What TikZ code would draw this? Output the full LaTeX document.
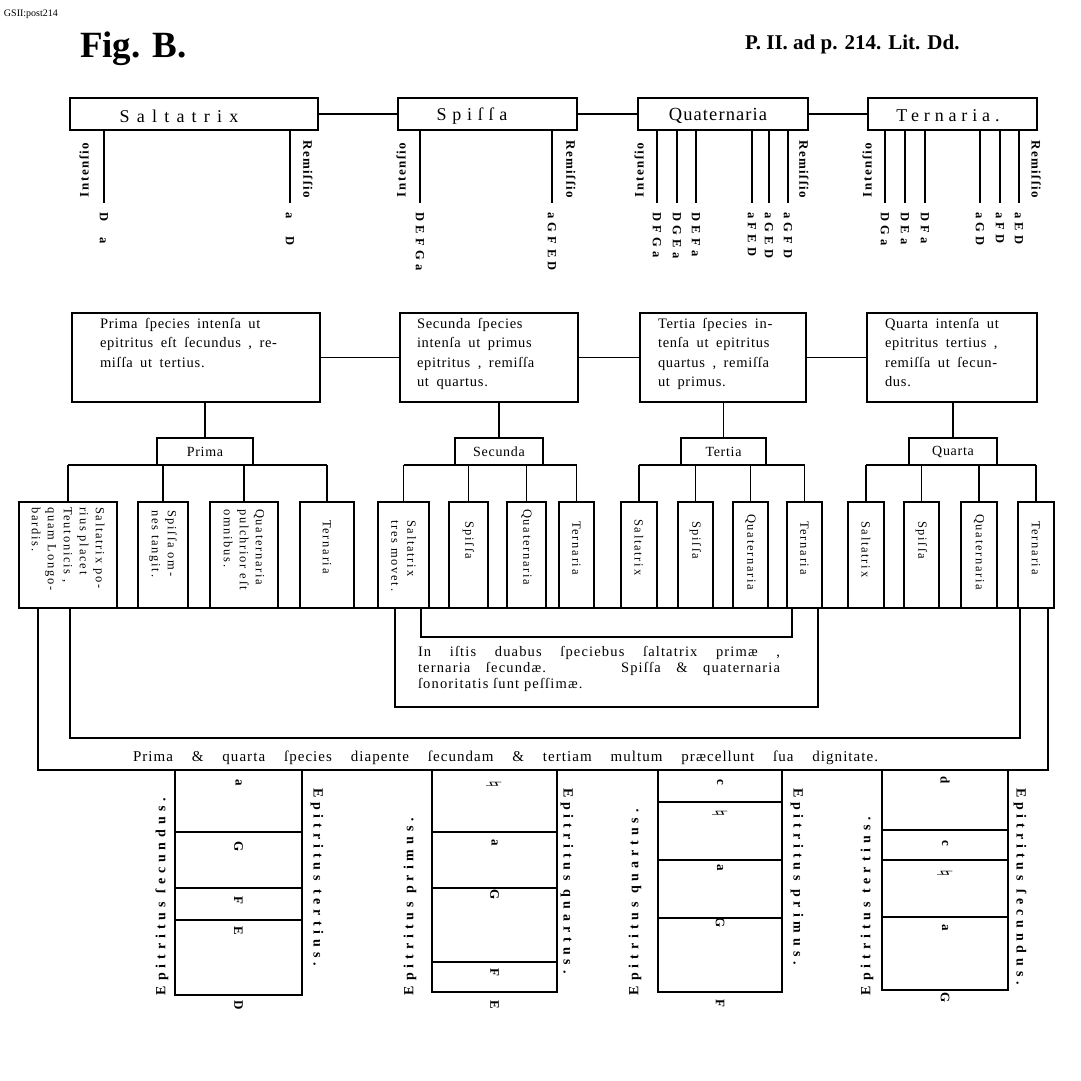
\documentclass[tikz,border=0pt]{standalone}
\usepackage{fontspec}
\setmainfont{Liberation Serif}
\newfontfamily\natfam{DejaVu Sans}
\usetikzlibrary{calc}
\newcommand\natsgn{{\natfam\bfseries\fontsize{21}{21}\selectfont ♮}}
\begin{document}
\begin{tikzpicture}[x=1pt,y=-1pt,
 every node/.style={inner sep=0pt,outer sep=0pt},
 bx/.style={draw,line width=1.8pt},
 ln/.style={line width=1.8pt},
 intl/.style={rotate=90,font=\bfseries\fontsize{13}{13}\selectfont\addfontfeatures{LetterSpace=12}},
 reml/.style={rotate=-90,font=\bfseries\fontsize{13}{13}\selectfont\addfontfeatures{LetterSpace=12}},
 notes/.style={rotate=-90,anchor=west,font={\bfseries\fontsize{12.5}{12.5}\selectfont\spaceskip=4.5pt\relax}},
 body/.style={anchor=north west,align=left,font={\fontsize{14.5}{19.5}\selectfont\addfontfeatures{LetterSpace=5}\spaceskip=7.5pt plus 1pt\relax}},
 lab/.style={font=\fontsize{14}{14}\selectfont\addfontfeatures{LetterSpace=5}},
 sbt/.style={rotate=-90,anchor=west,align=left,font=\fontsize{12.5}{16}\selectfont\addfontfeatures{LetterSpace=14}},
 epi/.style={anchor=west,font=\bfseries\fontsize{14}{14}\selectfont\addfontfeatures{LetterSpace=35}},
 nl/.style={rotate=-90,font=\bfseries\fontsize{13}{13}\selectfont}
]
\fill[white] (0,0) rectangle (1081,1080);
\useasboundingbox (0,0) rectangle (1081,1080);

% header
\node[font=\fontsize{10}{10}\selectfont,anchor=base west] (hdr) at (4,16) {GSII:post214};
\node[font=\bfseries\fontsize{37}{37}\selectfont,anchor=base west] (fig) at (80,57) {Fig. B.};
\node[font=\bfseries\fontsize{21}{21}\selectfont,anchor=base west] (ref) at (745,49) {P. II. ad p. 214. Lit. Dd.};

% top row
\node[bx,minimum width=248,minimum height=32] (salt) at (194,114) {};
\node[bx,minimum width=179,minimum height=32] (spis) at (487.5,114) {};
\node[bx,minimum width=170,minimum height=32] (quat) at (723,114) {};
\node[bx,minimum width=169,minimum height=32] (tern) at (952.5,114) {};
\node[font=\fontsize{18}{18}\selectfont\addfontfeatures{LetterSpace=40}] (saltT) at (179,116) {Saltatrix};
\node[font=\fontsize{18}{18}\selectfont\addfontfeatures{LetterSpace=32}] (spisT) at (472,116) {Spiſſa};
\node[font=\fontsize{18.5}{18.5}\selectfont\addfontfeatures{LetterSpace=6}] (quatT) at (718,116) {Quaternaria};
\node[font=\fontsize{18}{18}\selectfont\addfontfeatures{LetterSpace=27}] (ternT) at (948,116) {Ternaria.};
\draw[ln] (salt.east) -- (spis.west);
\draw[ln] (spis.east) -- (quat.west);
\draw[ln] (quat.east) -- (tern.west);

% intensio / remissio stems
\coordinate (sa1) at (104,203); \coordinate (sa2) at (290,203);
\coordinate (sp1) at (420,203); \coordinate (sp2) at (552,203);
\coordinate (qu1) at (657,203); \coordinate (qu2) at (677,203); \coordinate (qu3) at (696,203);
\coordinate (qu4) at (752,203); \coordinate (qu5) at (769,203); \coordinate (qu6) at (788,203);
\coordinate (te1) at (885,203); \coordinate (te2) at (905,203); \coordinate (te3) at (925,203);
\coordinate (te4) at (980,203); \coordinate (te5) at (1000,203); \coordinate (te6) at (1019,203);
\foreach \c in {sa1,sa2} \draw[ln] (\c |- salt.south) -- (\c);
\foreach \c in {sp1,sp2} \draw[ln] (\c |- spis.south) -- (\c);
\foreach \c in {qu1,qu2,qu3,qu4,qu5,qu6} \draw[ln] (\c |- quat.south) -- (\c);
\foreach \c in {te1,te2,te3,te4,te5,te6} \draw[ln] (\c |- tern.south) -- (\c);

\node[intl] (saI) at (84,170) {Intenſio};
\node[reml] (saR) at (308,169) {Remiſſio};
\node[intl] (spI) at (401,170) {Intenſio};
\node[reml] (spR) at (571,169) {Remiſſio};
\node[intl] (quI) at (639,170) {Intenſio};
\node[reml] (quR) at (804,169) {Remiſſio};
\node[intl] (teI) at (867,170) {Intenſio};
\node[reml] (teR) at (1036,169) {Remiſſio};

\node[notes] (sa1n) at (104,212) {D\hspace{16pt}a};
\node[notes] (sa2n) at (290,212) {a\hspace{18pt}D};
\node[notes] (sp1n) at (420,212) {D E F G a};
\node[notes] (sp2n) at (552,212) {a G F E D};
\node[notes] (qu1n) at (657,212) {D F G a};
\node[notes] (qu2n) at (677,212) {D G E a};
\node[notes] (qu3n) at (696,212) {D E F a};
\node[notes] (qu4n) at (752,212) {a F E D};
\node[notes] (qu5n) at (769,212) {a G E D};
\node[notes] (qu6n) at (788,212) {a G F D};
\node[notes] (te1n) at (885,212) {D G a};
\node[notes] (te2n) at (905,212) {D E a};
\node[notes] (te3n) at (925,212) {D F a};
\node[notes] (te4n) at (980,212) {a G D};
\node[notes] (te5n) at (1000,212) {a F D};
\node[notes] (te6n) at (1019,212) {a E D};

% second row
\node[bx,minimum width=248,minimum height=89] (prB) at (196,357.5) {};
\node[bx,minimum width=178,minimum height=89] (seB) at (489,357.5) {};
\node[bx,minimum width=166,minimum height=89] (teB) at (723,357.5) {};
\node[bx,minimum width=170,minimum height=89] (quB) at (952,357.5) {};
\draw[ln] (prB.east) -- (seB.west);
\draw[ln] (seB.east) -- (teB.west);
\draw[ln] (teB.east) -- (quB.west);
\node[body] (prT) at (100,318) {Prima ſpecies intenſa ut\\epitritus eſt ſecundus , re-\\miſſa ut tertius.};
\node[body] (seT) at (417,318) {Secunda ſpecies\\intenſa ut primus\\epitritus , remiſſa\\ut quartus.};
\node[body] (teT) at (658,318) {Tertia ſpecies in-\\tenſa ut epitritus\\quartus , remiſſa\\ut primus.};
\node[body] (quT) at (885,318) {Quarta intenſa ut\\epitritus tertius ,\\remiſſa ut ſecun-\\dus.};

% label boxes
\node[bx,lab,minimum width=96,minimum height=27] (prL) at (205,451.5) {Prima};
\node[bx,lab,minimum width=88,minimum height=27] (seL) at (499,451.5) {Secunda};
\node[bx,lab,minimum width=85,minimum height=27] (teL) at (723.5,451.5) {Tertia};
\node[bx,lab,minimum width=88,minimum height=27] (quL) at (953,451.5) {Quarta};
\draw[ln] (prL.north) -- (prL.north |- prB.south);
\draw[ln] (seL.north) -- (seL.north |- seB.south);
\draw[ln] (teL.north) -- (teL.north |- teB.south);
\draw[ln] (quL.north) -- (quL.north |- quB.south);

% small boxes
\node[bx,minimum width=98,minimum height=106] (b1) at (68,555) {};
\node[bx,minimum width=50,minimum height=106] (b2) at (163,555) {};
\node[bx,minimum width=68,minimum height=106] (b3) at (244,555) {};
\node[bx,minimum width=54,minimum height=106] (b4) at (327,555) {};
\node[bx,minimum width=51,minimum height=106] (b5) at (403.5,555) {};
\node[bx,minimum width=39,minimum height=106] (b6) at (468.5,555) {};
\node[bx,minimum width=39,minimum height=106] (b7) at (526.5,555) {};
\node[bx,minimum width=35,minimum height=106] (b8) at (576.5,555) {};
\node[bx,minimum width=36,minimum height=106] (b9) at (639,555) {};
\node[bx,minimum width=35,minimum height=106] (b10) at (695.5,555) {};
\node[bx,minimum width=35,minimum height=106] (b11) at (750.5,555) {};
\node[bx,minimum width=35,minimum height=106] (b12) at (804.5,555) {};
\node[bx,minimum width=36,minimum height=106] (b13) at (866,555) {};
\node[bx,minimum width=35,minimum height=106] (b14) at (921.5,555) {};
\node[bx,minimum width=36,minimum height=106] (b15) at (979,555) {};
\node[bx,minimum width=36,minimum height=106] (b16) at (1036,555) {};

\draw[ln] (b1.north |- prL.south) -- (b4.north |- prL.south);
\draw[ln] (b5.north |- seL.south) -- (b8.north |- seL.south);
\draw[ln] (b9.north |- teL.south) -- (b12.north |- teL.south);
\draw[ln] (b13.north |- quL.south) -- (b16.north |- quL.south);
\foreach \b in {b1,b2,b3,b4} \draw[ln] (\b.north) -- (\b.north |- prL.south);
\foreach \b in {b5,b6,b7,b8} \draw[ln] (\b.north) -- (\b.north |- seL.south);
\foreach \b in {b9,b10,b11,b12} \draw[ln] (\b.north) -- (\b.north |- teL.south);
\foreach \b in {b13,b14,b15,b16} \draw[ln] (\b.north) -- (\b.north |- quL.south);

\node[sbt] (b1t) at (68,507) {Saltatrix po-\\rius placet\\Teutonicis ,\\quam Longo-\\bardis.};
\node[sbt] (b2t) at (163,510) {Spiſſa om-\\nes tangit.};
\node[sbt] (b3t) at (244,509) {Quaternaria\\pulchrior eſt\\omnibus.};
\node[sbt] (b4t) at (327,520) {Ternaria};
\node[sbt] (b5t) at (403.5,520) {Saltatrix\\tres movet.};
\node[sbt] (b6t) at (468.5,521) {Spiſſa};
\node[sbt] (b7t) at (526.5,509) {Quaternaria};
\node[sbt] (b8t) at (576.5,521) {Ternaria};
\node[sbt] (b9t) at (639,519) {Saltatrix};
\node[sbt] (b10t) at (695.5,521) {Spiſſa};
\node[sbt] (b11t) at (750.5,514) {Quaternaria};
\node[sbt] (b12t) at (804.5,521) {Ternaria};
\node[sbt] (b13t) at (866,521) {Saltatrix};
\node[sbt] (b14t) at (921.5,521) {Spiſſa};
\node[sbt] (b15t) at (979,514) {Quaternaria};
\node[sbt] (b16t) at (1036,521) {Ternaria};

% base line and frames
\draw[ln] (b1.south west) -- (b16.south east);
\coordinate (oL) at (38,770); \coordinate (oR) at (1048,770);
\draw[ln] (oL |- b1.south) -- (oL) -- (oR) -- (oR |- b16.south);
\coordinate (iL) at (70,738); \coordinate (iR) at (1020,738);
\draw[ln] (iL |- b1.south) -- (iL) -- (iR) -- (iR |- b16.south);
\node[bx,minimum width=423,minimum height=99] (mid) at (606.5,657.5) {};
\coordinate (kL) at (421,637); \coordinate (kR) at (792,637);
\draw[ln] (kL |- b5.south) -- (kL) -- (kR) -- (kR |- b12.south);
\node[anchor=north west,text width=362pt,align=justify,font=\fontsize{14.5}{16}\selectfont\addfontfeatures{LetterSpace=8}] (midT) at (418,646)
 {In iſtis duabus ſpeciebus ſaltatrix primæ~,\linebreak ternaria ſecundæ.\hspace{2.5em} Spiſſa \& quaternaria\linebreak ſonoritatis ſunt peſſimæ.};
\node[anchor=base west,font=\fontsize{15}{15}\selectfont\addfontfeatures{LetterSpace=7}] (pq) at (133,761)
 {\makebox[745pt][s]{Prima \& quarta ſpecies diapente ſecundam \& tertiam multum præcellunt ſua dignitate.}};

% bottom diagrams
\node[bx,minimum width=127,minimum height=62] (d1a) at (238.5,801) {};
\node[bx,minimum width=127,minimum height=56] (d1b) at (238.5,860) {};
\node[bx,minimum width=127,minimum height=32] (d1c) at (238.5,904) {};
\node[bx,minimum width=127,minimum height=75] (d1d) at (238.5,957.5) {};
\node[bx,minimum width=125,minimum height=62] (d2a) at (494.5,801) {};
\node[bx,minimum width=125,minimum height=56] (d2b) at (494.5,860) {};
\node[bx,minimum width=125,minimum height=74] (d2c) at (494.5,925) {};
\node[bx,minimum width=125,minimum height=30] (d2d) at (494.5,977) {};
\node[bx,minimum width=124,minimum height=32] (d3a) at (720,786) {};
\node[bx,minimum width=124,minimum height=58] (d3b) at (720,831) {};
\node[bx,minimum width=124,minimum height=58] (d3c) at (720,889) {};
\node[bx,minimum width=124,minimum height=74] (d3d) at (720,955) {};
\node[bx,minimum width=126,minimum height=60] (d4a) at (945,800) {};
\node[bx,minimum width=126,minimum height=30] (d4b) at (945,845) {};
\node[bx,minimum width=126,minimum height=57] (d4c) at (945,888.5) {};
\node[bx,minimum width=126,minimum height=73] (d4d) at (945,953.5) {};

\node[nl] (l1a) at (238.5,783) {a};
\node[nl] (l1b) at (238.5,847) {G};
\node[nl] (l1c) at (238.5,900) {F};
\node[nl] (l1d) at (238.5,931) {E};
\node[nl] (l1e) at (238.5,1005) {D};
\node[nl] (l2a) at (494.5,784) {\natsgn};
\node[nl] (l2b) at (494.5,843) {a};
\node[nl] (l2c) at (494.5,895) {G};
\node[nl] (l2d) at (494.5,972) {F};
\node[nl] (l2e) at (494.5,1005) {E};
\node[nl] (l3a) at (720,782) {c};
\node[nl] (l3b) at (720,813) {\natsgn};
\node[nl] (l3c) at (720,868) {a};
\node[nl] (l3d) at (720,923) {G};
\node[nl] (l3e) at (720,1003) {F};
\node[nl] (l4a) at (945,780) {d};
\node[nl] (l4b) at (945,843) {c};
\node[nl] (l4c) at (945,873) {\natsgn};
\node[nl] (l4d) at (945,928) {a};
\node[nl] (l4e) at (945,998) {G};

\node[epi,rotate=90] (e1L) at (162,995) {Epitritus ſecundus.};
\node[epi,rotate=-90] (e1R) at (317,788) {Epitritus tertius.};
\node[epi,rotate=90] (e2L) at (410,995) {Epitritus primus.};
\node[epi,rotate=-90] (e2R) at (567,788) {Epitritus quartus.};
\node[epi,rotate=90] (e3L) at (635,995) {Epitritus quartus.};
\node[epi,rotate=-90] (e3R) at (797,788) {Epitritus primus.};
\node[epi,rotate=90] (e4L) at (867,995) {Epitritus tertius.};
\node[epi,rotate=-90] (e4R) at (1020,788) {Epitritus ſecundus.};
\end{tikzpicture}
\end{document}
